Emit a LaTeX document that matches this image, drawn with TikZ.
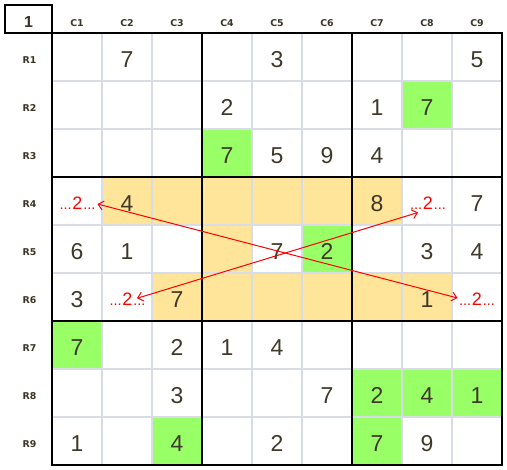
\documentclass[tikz,border=0pt]{standalone}
\usepackage{fontspec}
\setmainfont{Liberation Sans}
\newfontfamily\lblfont{DejaVu Sans}
\usetikzlibrary{arrows.meta}
\definecolor{cellyellow}{RGB}{255,229,153}
\definecolor{cellgreen}{RGB}{153,255,102}
\definecolor{gridgray}{RGB}{216,220,230}
\definecolor{digitcol}{RGB}{62,56,42}
\definecolor{labelcol}{RGB}{58,52,40}
\newcommand{\candtext}[1]{{\fontsize{14.5}{14.5}\selectfont...}\kern0.8pt{\fontsize{18}{18}\selectfont #1}\kern0.8pt{\fontsize{14.5}{14.5}\selectfont...}}
\begin{document}
\begin{tikzpicture}[x=1pt,y=-1pt,
  digit/.style={anchor=base, text=digitcol, font=\fontsize{23}{23}\selectfont, inner sep=0pt},
  cand/.style={anchor=base, text=red, inner sep=0pt},
  hdr/.style={anchor=base, text=labelcol, font=\lblfont\bfseries\fontsize{9.4}{9.4}\selectfont, inner sep=0pt},
  corner/.style={anchor=base, text=labelcol, font=\bfseries\fontsize{16}{16}\selectfont, inner sep=0pt},
  thinline/.style={gridgray, line width=2pt},
  thickline/.style={black, line width=2.3pt},
  link/.style={red, line width=1pt, {Straight Barb[length=5pt,width=9pt]}-{Straight Barb[length=5pt,width=9pt]}},
]
\useasboundingbox (0,0) rectangle (507,470);
% cell fills
\foreach \r/\c in {4/2,4/3,4/4,4/5,4/6,4/7,5/4,6/3,6/4,6/5,6/6,6/7,6/8}
  \fill[cellyellow] ({2+50*\c},{-15+48*\r}) rectangle ++(50,48);
\foreach \r/\c in {2/8,3/4,5/6,7/1,8/7,8/8,8/9,9/3,9/7}
  \fill[cellgreen] ({2+50*\c},{-15+48*\r}) rectangle ++(50,48);
% thin grid
\foreach \i in {1,...,8} {
  \draw[thinline] ({52+50*\i},33) -- ({52+50*\i},465);
  \draw[thinline] (52,{33+48*\i}) -- (502,{33+48*\i});
}
% thick grid
\draw[thickline] (52,33) rectangle (502,465);
\draw[thickline] (202,33) -- (202,465);
\draw[thickline] (352,33) -- (352,465);
\draw[thickline] (52,177) -- (502,177);
\draw[thickline] (52,321) -- (502,321);
\draw[thickline] (5,5) rectangle (52,33);
% headers
\node[corner] (corner) at (28.5,27.5) {1};
\foreach \c in {1,...,9}
  \node[hdr] (col\c) at ({27+50*\c},26.5) {C\c};
\foreach \r in {1,...,9}
  \node[hdr] (row\r) at (29.5,{16+48*\r}) {R\r};
% digits
\foreach \r/\c/\v in {1/2/7,1/5/3,1/9/5,
  2/4/2,2/7/1,2/8/7,
  3/4/7,3/5/5,3/6/9,3/7/4,
  4/2/4,4/7/8,4/9/7,
  5/1/6,5/2/1,5/5/7,5/6/2,5/8/3,5/9/4,
  6/1/3,6/3/7,6/8/1,
  7/1/7,7/3/2,7/4/1,7/5/4,
  8/3/3,8/6/7,8/7/2,8/8/4,8/9/1,
  9/1/1,9/3/4,9/5/2,9/7/7,9/8/9}
  \node[digit] (d\r\c) at ({27+50*\c},{19.5+48*\r}) {\v};
% candidates
\node[cand] (k41) at (77.5,210) {\candtext{2}};
\node[cand] (k48) at (428,210) {\candtext{2}};
\node[cand] (k62) at (127.5,306) {\candtext{2}};
\node[cand] (k69) at (477,306) {\candtext{2}};
% links
\coordinate (a41) at (97.5,204);
\coordinate (a69) at (457.5,298);
\coordinate (a62) at (137,298.3);
\coordinate (a48) at (418,212.5);
\draw[link] (a41) -- (a69);
\draw[link] (a62) -- (a48);
\end{tikzpicture}
\end{document}
